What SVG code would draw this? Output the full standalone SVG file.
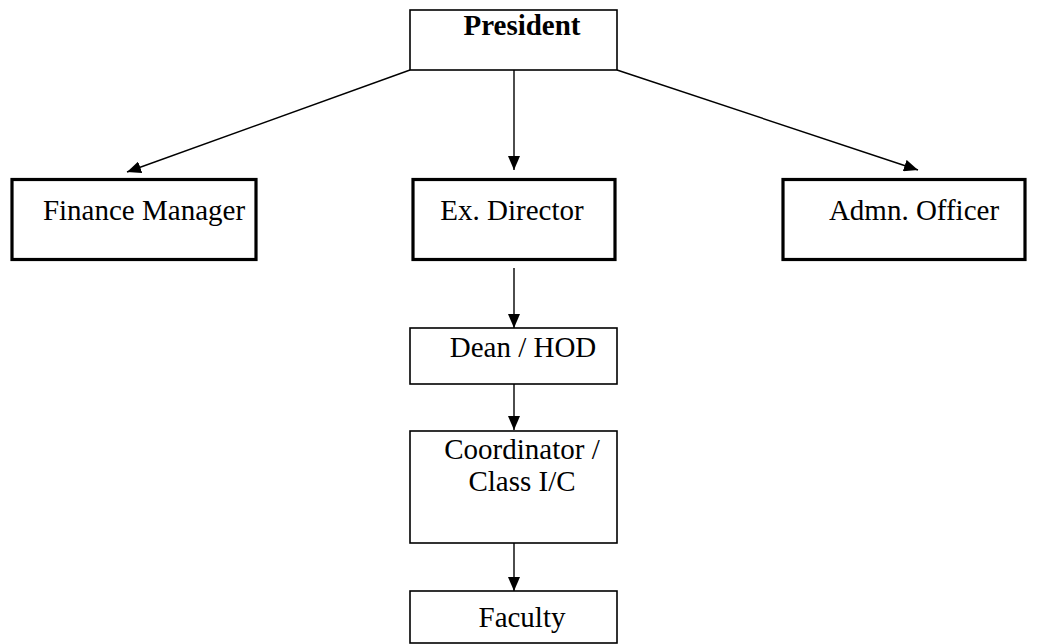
<svg xmlns="http://www.w3.org/2000/svg" width="1037" height="644" viewBox="0 0 1037 644">
<style>
.thin{fill:#fff;stroke:#000;stroke-width:1.6}
.thick{fill:#fff;stroke:#000;stroke-width:3.2}
.t{font-family:"Liberation Serif","Times New Roman",serif;font-size:29px;fill:#000;text-anchor:middle}
.b{font-weight:bold}
.c{stroke:#000;stroke-width:1.4;fill:none;marker-end:url(#ah)}
</style>
<defs>
<marker id="ah" markerWidth="14" markerHeight="12" refX="14" refY="6" orient="auto" markerUnits="userSpaceOnUse">
<path d="M0,0 L14,6 L0,12 Z" fill="#000"/>
</marker>
</defs>
<rect width="1037" height="644" fill="#fff"/>
<g id="connectors">
<line class="c" x1="410" y1="70" x2="127" y2="172"/>
<line class="c" x1="514" y1="70" x2="514" y2="170"/>
<line class="c" x1="617" y1="70" x2="918" y2="170"/>
<line class="c" x1="514" y1="268" x2="514" y2="328"/>
<line class="c" x1="514" y1="384" x2="514" y2="430"/>
<line class="c" x1="514" y1="543" x2="514" y2="591"/>
</g>
<g id="president">
<rect class="thin" x="410" y="10" width="207" height="60"/>
<text class="t b" x="522" y="35">President</text>
</g>
<g id="finance">
<rect class="thick" x="12" y="179.5" width="244" height="80"/>
<text class="t" x="144" y="220">Finance Manager</text>
</g>
<g id="exdirector">
<rect class="thick" x="413" y="179.5" width="202" height="80"/>
<text class="t" x="512" y="220">Ex. Director</text>
</g>
<g id="admn">
<rect class="thick" x="783" y="179.5" width="242" height="80"/>
<text class="t" x="914" y="220">Admn. Officer</text>
</g>
<g id="dean">
<rect class="thin" x="410" y="328" width="207" height="56"/>
<text class="t" x="523" y="357">Dean / HOD</text>
</g>
<g id="coordinator">
<rect class="thin" x="410" y="431" width="207" height="112"/>
<text class="t" x="522" y="459">Coordinator /</text>
<text class="t" x="522" y="491">Class I/C</text>
</g>
<g id="faculty">
<rect class="thin" x="410" y="591" width="207" height="52"/>
<text class="t" x="522" y="627">Faculty</text>
</g>
</svg>
